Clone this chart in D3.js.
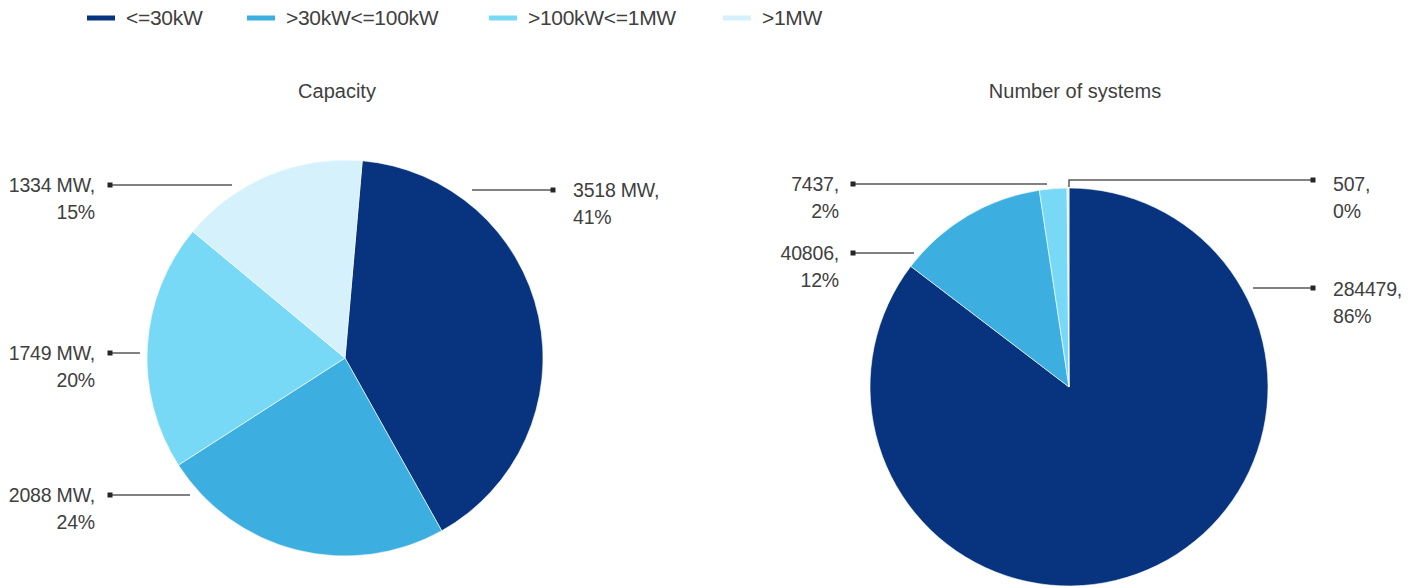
<!DOCTYPE html>
<html>
<head>
<meta charset="utf-8">
<script src="https://cdn.jsdelivr.net/npm/d3@7"></script>
<style>
  html, body { margin: 0; padding: 0; background: #ffffff; }
  svg { display: block; }
  text { font-family: "Liberation Sans", Arial, sans-serif; fill: #404040; }
</style>
</head>
<body>
<svg id="chart" width="1417" height="588"></svg>
<script>
// ---- data ----
const categories = ["<=30kW", ">30kW<=100kW", ">100kW<=1MW", ">1MW"];
const colors = ["#08347f", "#3caee0", "#78d9f6", "#d4f1fc"];
const capacityValues = [3518, 2088, 1749, 1334];
const capacityPercentLabels = ["41%", "24%", "20%", "15%"];
const systemsValues = [284479, 40806, 7437, 507];
const systemsPercentLabels = ["86%", "12%", "2%", "0%"];
const chartTitles = ["Capacity", "Number of systems"];

const svg = d3.select("#chart");
const color = d3.scaleOrdinal().domain(categories).range(colors);

// ---- legend ----
const legendX = [87, 247, 489, 723];
const legend = svg.append("g");
categories.forEach((c, i) => {
  const g = legend.append("g").attr("transform", `translate(${legendX[i]},18)`);
  g.append("line").attr("x1", 0).attr("x2", 28).attr("y1", 0).attr("y2", 0)
    .attr("stroke", color(c)).attr("stroke-width", 5);
  g.append("text").attr("x", 39).attr("y", 0).attr("dy", "0.35em")
    .style("font-size", "21px").style("letter-spacing", "-0.3px").text(c);
});

// ---- pies ----
function drawPie(cfg) {
  const data = categories.map((c, i) => ({ cat: c, value: cfg.values[i], pct: cfg.pcts[i] }));
  const pie = d3.pie().value(d => d.value).sort(null)
    .startAngle(cfg.startAngle).endAngle(cfg.startAngle + 2 * Math.PI);
  const arcs = pie(data);
  const arc = d3.arc().innerRadius(0).outerRadius(cfg.r);
  const g = svg.append("g").attr("transform", `translate(${cfg.cx},${cfg.cy})`);
  g.selectAll("path").data(arcs).enter().append("path")
    .attr("d", arc).attr("fill", d => color(d.data.cat))
    .attr("stroke", "#ffffff").attr("stroke-width", 0.6);

  svg.append("text").attr("x", cfg.titleX).attr("y", 91).attr("dy", "0.35em")
    .attr("text-anchor", "middle").style("font-size", "20px").text(cfg.title);

  // leader lines and labels
  cfg.labels.forEach((L, i) => {
    const a = arcs[i];
    const line = svg.append("g");
    const pts = L.path;
    line.append("path")
      .attr("d", d3.line()(pts))
      .attr("fill", "none").attr("stroke", "#595959").attr("stroke-width", 1.5);
    const end = pts[pts.length - 1];
    line.append("rect").attr("x", end[0] - 2.5).attr("y", end[1] - 2.5)
      .attr("width", 5).attr("height", 5).attr("fill", "#262626");
    const t = svg.append("text")
      .attr("x", L.tx).attr("y", L.ty)
      .attr("text-anchor", L.anchor)
      .style("font-size", "19.5px").style("letter-spacing", "-0.2px");
    t.append("tspan").attr("x", L.tx).attr("dy", "0.35em").text(cfg.fmt(a.data.value) + ",");
    t.append("tspan").attr("x", L.tx).attr("dy", "27").text(a.data.pct);
  });
}

drawPie({
  title: chartTitles[0], titleX: 337,
  values: capacityValues, pcts: capacityPercentLabels,
  cx: 345, cy: 358, r: 198, startAngle: 5 * Math.PI / 180,
  fmt: v => v + " MW",
  labels: [
    { path: [[472, 190], [553, 190]], tx: 573, ty: 190, anchor: "start" },
    { path: [[190, 495], [110, 495]], tx: 95, ty: 495, anchor: "end" },
    { path: [[140, 353], [110, 353]], tx: 95, ty: 353, anchor: "end" },
    { path: [[232, 185], [110, 185]], tx: 95, ty: 185, anchor: "end" }
  ]
});

drawPie({
  title: chartTitles[1], titleX: 1075,
  values: systemsValues, pcts: systemsPercentLabels,
  cx: 1069, cy: 387, r: 199, startAngle: 0,
  fmt: v => String(v),
  labels: [
    { path: [[1253, 288], [1313, 288]], tx: 1333, ty: 289, anchor: "start" },
    { path: [[914, 253], [853, 253]], tx: 839, ty: 253, anchor: "end" },
    { path: [[1047, 184], [853, 184]], tx: 839, ty: 184, anchor: "end" },
    { path: [[1069, 187], [1069, 180], [1313, 180]], tx: 1333, ty: 184, anchor: "start" }
  ]
});
</script>
</body>
</html>
